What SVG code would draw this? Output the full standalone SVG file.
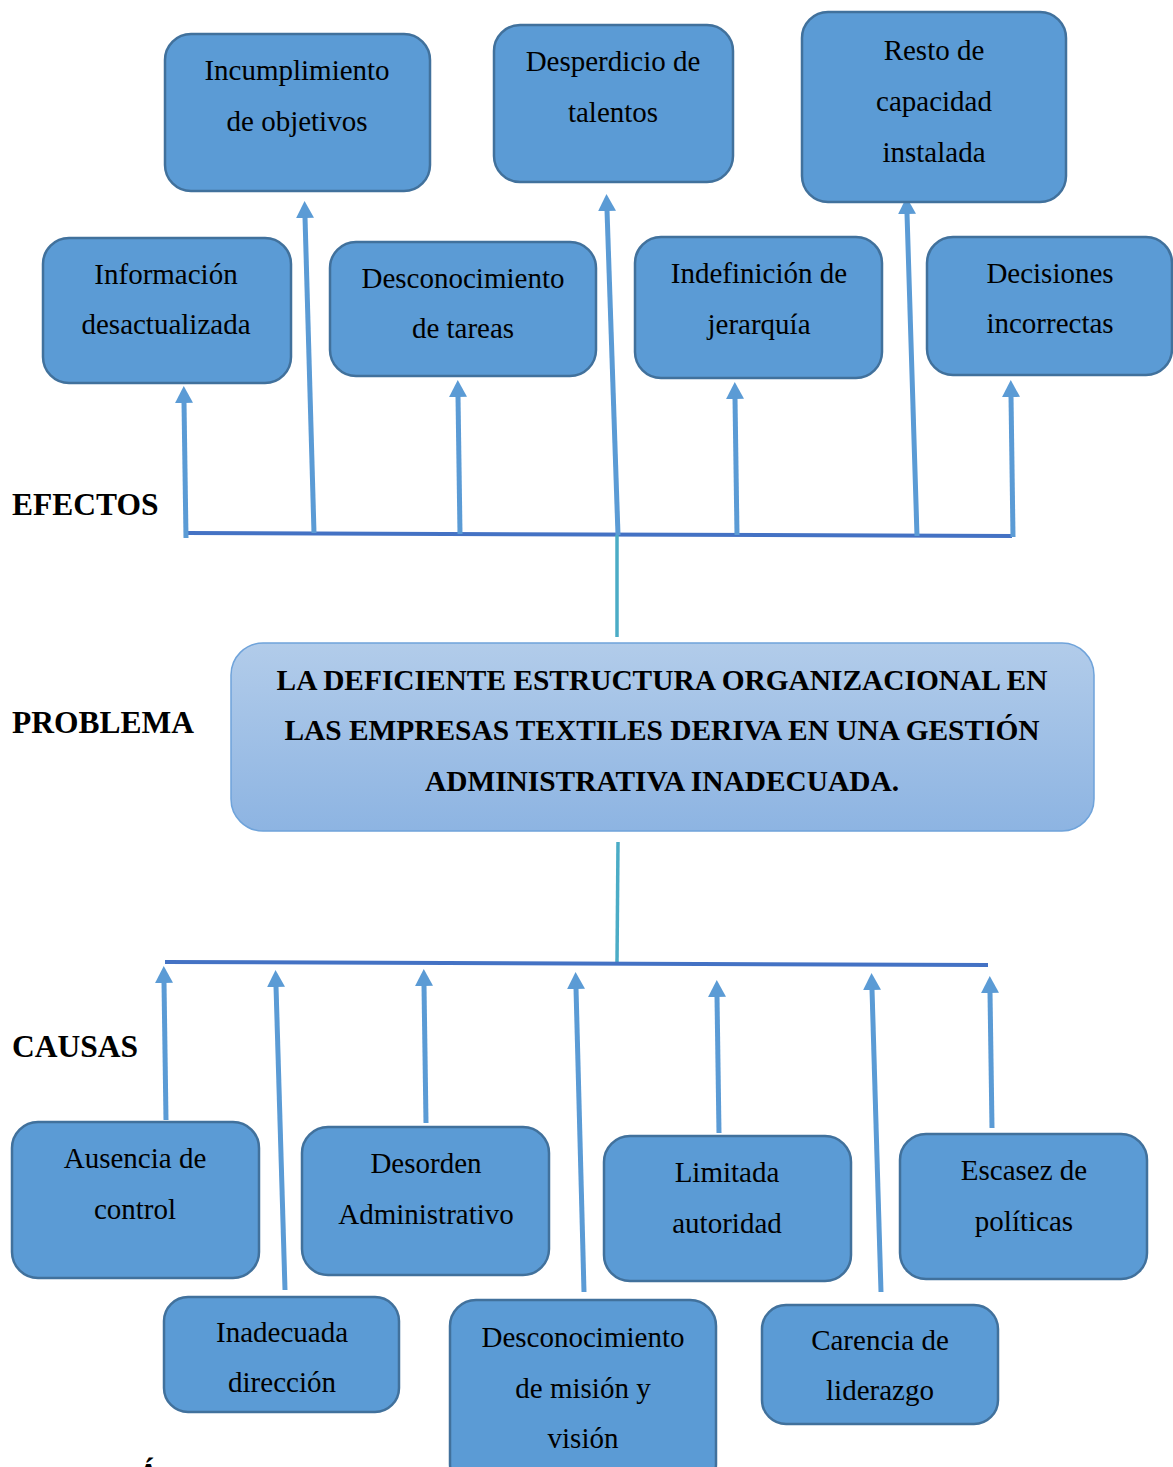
<svg xmlns="http://www.w3.org/2000/svg" width="1173" height="1467" viewBox="0 0 1173 1467">
  <style>
    .node { fill: #5B9BD5; stroke: #41719C; stroke-width: 2.5; }
    .nt { font-family: "Liberation Serif", "Times New Roman", serif; font-size: 29px; fill: #000; text-anchor: middle; }
    .pt { font-family: "Liberation Serif", "Times New Roman", serif; font-size: 29.4px; font-weight: bold; fill: #000; text-anchor: middle; }
    .lbl { font-family: "Liberation Serif", "Times New Roman", serif; font-size: 31.5px; font-weight: bold; fill: #000; }
    .arrow { stroke: #5B9BD5; stroke-width: 5; fill: none; marker-end: url(#head); }
    .bar { stroke: #4472C4; stroke-width: 4; fill: none; }
    .stem { stroke: #4BACC6; stroke-width: 3.5; fill: none; }
  </style>
  <defs>
    <marker id="head" markerUnits="userSpaceOnUse" markerWidth="18" markerHeight="18" refX="1" refY="9" orient="auto">
      <path d="M0,0 L17,9 L0,18 z" fill="#5B9BD5"/>
    </marker>
    <linearGradient id="probFill" x1="0" y1="0" x2="0" y2="1">
      <stop offset="0" stop-color="#B2CCEA"/>
      <stop offset="1" stop-color="#8DB4E2"/>
    </linearGradient>
  </defs>

  <rect width="1173" height="1467" fill="#FFFFFF"/>

  <!-- section labels -->
  <text class="lbl" x="12" y="515">EFECTOS</text>
  <text class="lbl" x="12" y="733">PROBLEMA</text>
  <text class="lbl" x="12" y="1057">CAUSAS</text>

  <!-- connectors -->
  <g id="connectors">
    <line class="bar" x1="186" y1="533" x2="1012" y2="536"/>
    <line class="arrow" x1="186" y1="538" x2="184" y2="402"/>
    <line class="arrow" x1="314" y1="533" x2="305" y2="217"/>
    <line class="arrow" x1="460" y1="534" x2="458" y2="396"/>
    <line class="arrow" x1="618" y1="535" x2="607" y2="210"/>
    <line class="arrow" x1="737" y1="535" x2="735" y2="398"/>
    <line class="arrow" x1="917" y1="536" x2="907" y2="213"/>
    <line class="arrow" x1="1013" y1="537" x2="1011" y2="396"/>
    <line class="stem" x1="617" y1="535" x2="617" y2="637"/>

    <line class="stem" x1="618" y1="842" x2="617" y2="962"/>
    <line class="bar" x1="165" y1="962" x2="988" y2="965"/>
    <line class="arrow" x1="166" y1="1120" x2="164" y2="982"/>
    <line class="arrow" x1="285" y1="1290" x2="276" y2="986"/>
    <line class="arrow" x1="426" y1="1123" x2="424" y2="985"/>
    <line class="arrow" x1="584" y1="1292" x2="576" y2="988"/>
    <line class="arrow" x1="719" y1="1133" x2="717" y2="996"/>
    <line class="arrow" x1="881" y1="1292" x2="872" y2="989"/>
    <line class="arrow" x1="992" y1="1128" x2="990" y2="992"/>
  </g>

  <!-- effects -->
  <g id="incumplimiento">
    <rect class="node" x="165" y="34" width="265" height="157" rx="26"/>
    <text class="nt" x="297" y="80">Incumplimiento</text>
    <text class="nt" x="297" y="131">de objetivos</text>
  </g>
  <g id="desperdicio">
    <rect class="node" x="494" y="25" width="239" height="157" rx="26"/>
    <text class="nt" x="613" y="71">Desperdicio de</text>
    <text class="nt" x="613" y="122">talentos</text>
  </g>
  <g id="resto">
    <rect class="node" x="802" y="12" width="264" height="190" rx="26"/>
    <text class="nt" x="934" y="60">Resto de</text>
    <text class="nt" x="934" y="111">capacidad</text>
    <text class="nt" x="934" y="162">instalada</text>
  </g>
  <g id="informacion">
    <rect class="node" x="43" y="238" width="248" height="145" rx="26"/>
    <text class="nt" x="166" y="284">Información</text>
    <text class="nt" x="166" y="334">desactualizada</text>
  </g>
  <g id="desconocimiento-tareas">
    <rect class="node" x="330" y="242" width="266" height="134" rx="26"/>
    <text class="nt" x="463" y="288">Desconocimiento</text>
    <text class="nt" x="463" y="338">de tareas</text>
  </g>
  <g id="indefinicion">
    <rect class="node" x="635" y="237" width="247" height="141" rx="26"/>
    <text class="nt" x="759" y="283">Indefinición de</text>
    <text class="nt" x="759" y="334">jerarquía</text>
  </g>
  <g id="decisiones">
    <rect class="node" x="927" y="237" width="245" height="138" rx="26"/>
    <text class="nt" x="1050" y="283">Decisiones</text>
    <text class="nt" x="1050" y="333">incorrectas</text>
  </g>

  <!-- problem -->
  <g id="problema">
    <rect x="231" y="643" width="863" height="188" rx="32" fill="url(#probFill)" stroke="#6FA3DA" stroke-width="1.5"/>
    <text class="pt" x="662" y="690">LA DEFICIENTE ESTRUCTURA ORGANIZACIONAL EN</text>
    <text class="pt" x="662" y="740">LAS EMPRESAS TEXTILES DERIVA EN UNA GESTIÓN</text>
    <text class="pt" x="662" y="791">ADMINISTRATIVA INADECUADA.</text>
  </g>

  <!-- causes -->
  <g id="ausencia">
    <rect class="node" x="12" y="1122" width="247" height="156" rx="26"/>
    <text class="nt" x="135" y="1168">Ausencia de</text>
    <text class="nt" x="135" y="1219">control</text>
  </g>
  <g id="desorden">
    <rect class="node" x="302" y="1127" width="247" height="148" rx="26"/>
    <text class="nt" x="426" y="1173">Desorden</text>
    <text class="nt" x="426" y="1224">Administrativo</text>
  </g>
  <g id="limitada">
    <rect class="node" x="604" y="1136" width="247" height="145" rx="26"/>
    <text class="nt" x="727" y="1182">Limitada</text>
    <text class="nt" x="727" y="1233">autoridad</text>
  </g>
  <g id="escasez">
    <rect class="node" x="900" y="1134" width="247" height="145" rx="26"/>
    <text class="nt" x="1024" y="1180">Escasez de</text>
    <text class="nt" x="1024" y="1231">políticas</text>
  </g>
  <g id="inadecuada">
    <rect class="node" x="164" y="1297" width="235" height="115" rx="24"/>
    <text class="nt" x="282" y="1342">Inadecuada</text>
    <text class="nt" x="282" y="1392">dirección</text>
  </g>
  <g id="desconocimiento-mision">
    <rect class="node" x="450" y="1300" width="266" height="190" rx="26"/>
    <text class="nt" x="583" y="1347">Desconocimiento</text>
    <text class="nt" x="583" y="1398">de misión y</text>
    <text class="nt" x="583" y="1448">visión</text>
  </g>
  <g id="carencia">
    <rect class="node" x="762" y="1305" width="236" height="119" rx="24"/>
    <text class="nt" x="880" y="1350">Carencia de</text>
    <text class="nt" x="880" y="1400">liderazgo</text>
  </g>

  <!-- caption below, cut by the page edge -->
  <text class="lbl" x="137" y="1485" font-size="22">Á</text>
</svg>
